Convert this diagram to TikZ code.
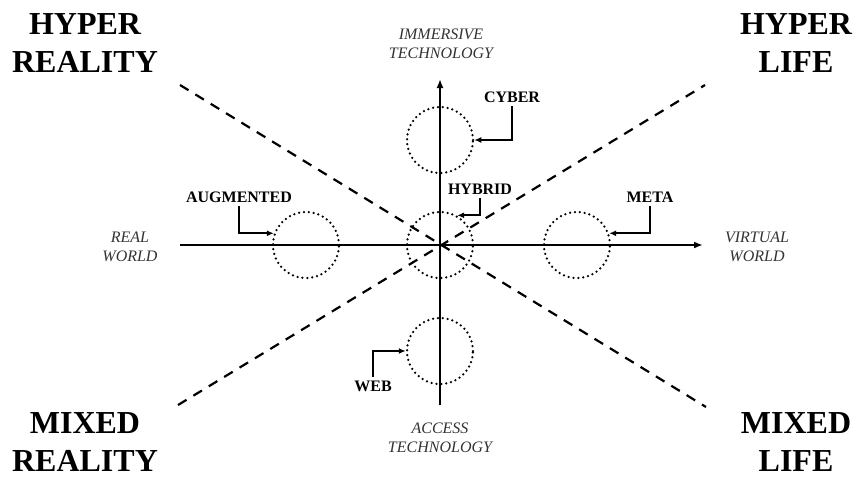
\documentclass[tikz,border=0pt]{standalone}
\usepackage{fontspec}
\setmainfont{Liberation Serif}
\usetikzlibrary{arrows.meta}
\tikzset{
  axis/.style={line width=1.8pt},
  diag/.style={line width=2.2pt, dash pattern=on 10pt off 8pt},
  zone/.style={circle, minimum size=66pt, inner sep=0pt, line width=2.5pt,
    dash pattern=on 0pt off 4.9pt, line cap=round, draw},
  pointer/.style={line width=1.8pt, -{Latex[length=7pt,width=6pt]}},
  kind/.style={font=\fontsize{16}{19}\selectfont\bfseries},
  pole/.style={font=\fontsize{16}{19}\selectfont\itshape, align=center, text=black!80},
  corner/.style={font=\fontsize{32}{38}\selectfont\bfseries, align=center, inner sep=0pt}
}
\begin{document}
\begin{tikzpicture}[x=1pt, y=-1pt]
  \useasboundingbox (0,0) rectangle (859,480);
  % axes and diagonals
  \coordinate (realend) at (180,245);
  \coordinate (virtend) at (703,245);
  \coordinate (immend) at (440,79);
  \coordinate (accend) at (440,405);
  \draw[diag] (180,85) coordinate (hr) -- (706,407) coordinate (ml);
  \draw[diag] (178,405) coordinate (mr) -- (705,85) coordinate (hl);
  \draw[axis, -{Latex[length=9pt,width=7pt]}] (realend) -- (virtend);
  \draw[axis, -{Latex[length=9pt,width=7pt]}] (accend) -- (immend);
  % zones
  \node[zone] (cyber) at (440,140) {};
  \node[zone] (aug) at (306,245) {};
  \node[zone] (hybrid) at (440,245) {};
  \node[zone] (meta) at (577,245) {};
  \node[zone] (web) at (440,351) {};
  % zone labels
  \node[kind] (lcyber) at (512,97) {CYBER};
  \node[kind] (laug) at (239,197) {AUGMENTED};
  \node[kind] (lhybrid) at (480,189) {HYBRID};
  \node[kind] (lmeta) at (650,197) {META};
  \node[kind] (lweb) at (373,386) {WEB};
  \draw[pointer] (lcyber.south) |- (cyber.east);
  \draw[pointer] (laug.south) |- (aug.160);
  \draw[pointer] (lhybrid.south) |- (hybrid.60);
  \draw[pointer] (lmeta.south) |- (meta.20);
  \draw[pointer] (lweb.north) |- (web.west);
  % axis labels
  \node[pole] (real) at (130,247) {REAL\\WORLD};
  \node[pole] (virtual) at (757,247) {VIRTUAL\\WORLD};
  \node[pole] (immersive) at (441,44) {IMMERSIVE\\TECHNOLOGY};
  \node[pole] (access) at (440,438) {ACCESS\\TECHNOLOGY};
  % corners
  \node[corner] (hyperreal) at (85,43) {HYPER\\REALITY};
  \node[corner] (hyperlife) at (796,43) {HYPER\\LIFE};
  \node[corner] (mixedreal) at (85,442) {MIXED\\REALITY};
  \node[corner] (mixedlife) at (796,442) {MIXED\\LIFE};
\end{tikzpicture}
\end{document}
